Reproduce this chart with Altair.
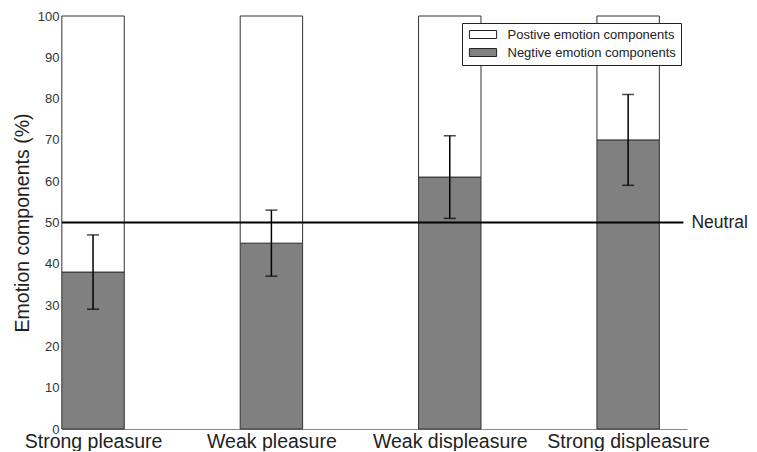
import json
import altair as alt
import pandas as pd

# ---- data ----
categories = ["Strong pleasure", "Weak pleasure", "Weak displeasure", "Strong displeasure"]
positions = [1, 2, 3, 4]
negative = [38, 45, 61, 70]
err_low = [29, 37, 51, 59]
err_high = [47, 53, 71, 81]
series = ["Postive emotion components", "Negtive emotion components"]
total = 100
neutral_value = 50
neutral_label = "Neutral"

# ---- layout settings ----
half = 0.175
x_domain = [0.826, 4.33]
neutral_end = 4.31
neutral_text_x = 4.355

rows = []
for p, n in zip(positions, negative):
    rows.append({"series": series[1], "x": p - half, "x2": p + half, "lo": 0, "hi": n})
    rows.append({"series": series[0], "x": p - half, "x2": p + half, "lo": n, "hi": total})
bars_df = pd.DataFrame(rows)
err_df = pd.DataFrame({"pos": positions, "low": err_low, "high": err_high})
neutral_df = pd.DataFrame({"x": [x_domain[0]], "x2": [neutral_end], "y": [neutral_value],
                           "tx": [neutral_text_x], "label": [neutral_label]})

xscale = alt.Scale(domain=x_domain, nice=False, zero=False)
yscale = alt.Scale(domain=[0, 100], nice=False)

label_expr = json.dumps(categories) + "[datum.value - 1]"

x_axis = alt.Axis(values=positions, labelExpr=label_expr, title=None, grid=False,
                  ticks=False, labelFontSize=19.5, labelColor="#222", labelPadding=3,
                  domainColor="#888", labelFlush=False)
y_axis = alt.Axis(values=list(range(0, 101, 10)), title="Emotion components (%)",
                  grid=False, ticks=False, labelFontSize=13, labelColor="#333",
                  labelPadding=3, domainColor="#888", titleFontSize=19.5,
                  titleFontWeight="normal", titleColor="#222", titlePadding=5)

bars = alt.Chart(bars_df).mark_bar(stroke="#333", strokeWidth=1).encode(
    x=alt.X("x:Q", scale=xscale, axis=x_axis),
    x2="x2:Q",
    y=alt.Y("lo:Q", scale=yscale, axis=y_axis),
    y2="hi:Q",
    fill=alt.Fill("series:N", scale=alt.Scale(domain=series, range=["white", "#808080"]),
                  legend=alt.Legend(title=None, orient="none", legendX=400, legendY=7,
                                    strokeColor="#222", fillColor="white", padding=5,
                                    labelFontSize=13, labelColor="#222", labelLimit=0,
                                    symbolType="M-3.4,-1H3.4V1H-3.4Z", symbolSize=64,
                                    symbolOffset=9.5,
                                    symbolStrokeColor="#222", symbolStrokeWidth=1,
                                    labelOffset=18, rowPadding=4)),
)

err_rule = alt.Chart(err_df).mark_rule(color="black", strokeWidth=1.5).encode(
    x="pos:Q", y="low:Q", y2="high:Q")
err_low_cap = alt.Chart(err_df).mark_tick(color="black", thickness=1.5, size=12,
                                          orient="horizontal").encode(x="pos:Q", y="low:Q")
err_high_cap = alt.Chart(err_df).mark_tick(color="black", thickness=1.5, size=12,
                                           orient="horizontal").encode(x="pos:Q", y="high:Q")

neutral_line = alt.Chart(neutral_df).mark_rule(color="black", strokeWidth=2).encode(
    x="x:Q", x2="x2:Q", y="y:Q")
neutral_text = alt.Chart(neutral_df).mark_text(align="left", baseline="middle",
                                               fontSize=17.5, color="#222").encode(
    x="tx:Q", y="y:Q", text="label:N")

chart = alt.layer(bars, err_rule, err_low_cap, err_high_cap, neutral_line, neutral_text).properties(
    width=625, height=413,
    autosize=alt.AutoSizeParams(type="none"),
    padding={"left": 54, "top": 8, "right": 62, "bottom": 22},
).configure(font="Liberation Sans").configure_view(stroke=None)

chart.save("out.html", embed_options={"renderer": "svg", "actions": False})
